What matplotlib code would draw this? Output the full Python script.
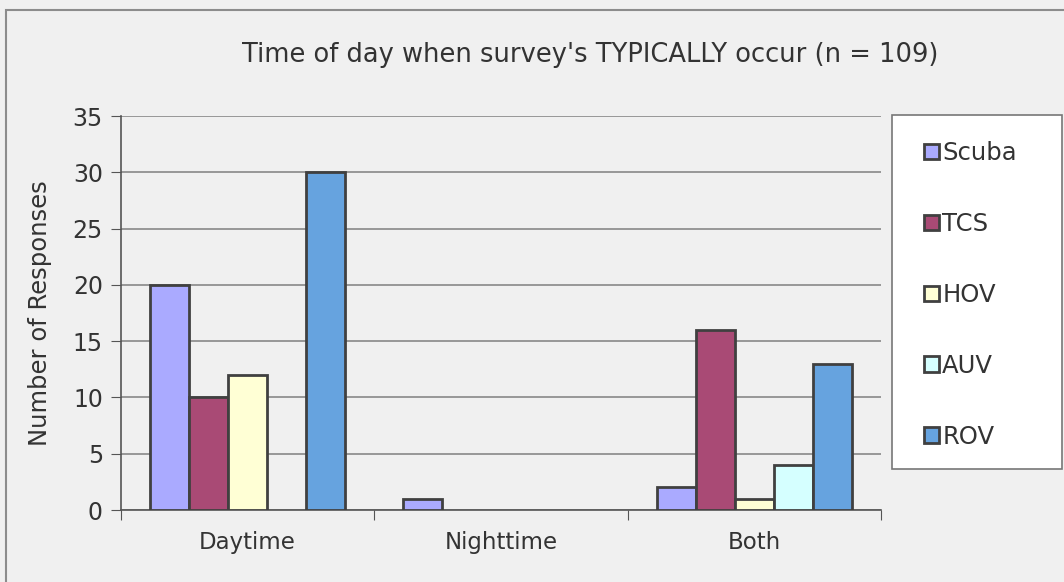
import numpy as np
import matplotlib
matplotlib.use("Agg")
import matplotlib.pyplot as plt
from matplotlib.patches import Rectangle, Patch

categories = ["Daytime", "Nighttime", "Both"]
series = ["Scuba", "TCS", "HOV", "AUV", "ROV"]
scuba = [20, 1, 2]
tcs = [10, 0, 16]
hov = [12, 0, 1]
auv = [0, 0, 4]
rov = [30, 0, 13]
colors = ["#AAAAFF", "#A94A75", "#FFFFD5", "#D5FFFF", "#66A3DF"]

plt.rcParams["font.family"] = ["DejaVu Sans"]
W, H = 1064, 582
fig = plt.figure(figsize=(W / 100, H / 100), dpi=100)
fig.patch.set_facecolor("#F0F0F0")
# outer chart border
fig.patches.append(Rectangle((6 / W, -0.01), 1.1, 1 - 10 / H + 0.01, transform=fig.transFigure,
                             fill=False, edgecolor="#8C8C8C", linewidth=1.5))

ax = fig.add_axes([121 / W, 1 - 510 / H, (881 - 121) / W, (510 - 116) / H])
ax.set_facecolor("#F0F0F0")

values = [scuba, tcs, hov, auv, rov]
x = np.arange(len(categories))
bw = 0.154
for i, (name, vals) in enumerate(zip(series, values)):
    bars = ax.bar(x - 2 * bw + i * bw, vals, bw, color=colors[i], edgecolor="#404040",
                  linewidth=2.0, zorder=3)
    # zero-height bars are not drawn in the original
    for b in bars:
        if b.get_height() == 0:
            b.set_visible(False)

ax.set_xlim(-0.5, 2.5)
ax.set_ylim(0, 35)
ax.set_yticks(range(0, 36, 5))
ax.yaxis.grid(True, color="#888888", linewidth=1.2, zorder=0)
ax.set_xticks([-0.5, 0.5, 1.5, 2.5], minor=False)
ax.set_xticklabels([])
ax.set_xticks(x, minor=True)
ax.set_xticklabels(categories, minor=True, fontsize=16.5, color="#333333")
ax.tick_params(axis="x", which="minor", length=0, pad=15)
ax.tick_params(axis="x", which="major", length=7, direction="out", color="#555555")
ax.tick_params(axis="y", length=7, direction="out", color="#555555", labelsize=17,
               labelcolor="#333333", pad=6)
for s in ["top", "right"]:
    ax.spines[s].set_visible(False)
for s in ["left", "bottom"]:
    ax.spines[s].set_color("#555555")
    ax.spines[s].set_linewidth(1.2)

ax.set_ylabel("Number of Responses", fontsize=17.5, color="#333333")
ax.yaxis.set_label_coords((52 - 121) / 760, 0.5)
fig.text(590 / W, 1 - 55 / H, "Time of day when survey's TYPICALLY occur (n = 109)",
         ha="center", va="center", fontsize=18.5, color="#333333")

# legend box
fig.patches.append(Rectangle((892 / W, 1 - 469 / H), (1062 - 892) / W, (469 - 115) / H,
                             transform=fig.transFigure, facecolor="white",
                             edgecolor="#777777", linewidth=1.2, zorder=1))
handles = [Patch(facecolor=c, edgecolor="#404040", linewidth=2.0) for c in colors]
leg = fig.legend(handles, series, loc="upper left", bbox_to_anchor=(924 / W, 1 - 141 / H),
                 fontsize=17.5, frameon=False,
                 handlelength=0.6, handleheight=0.6, handletextpad=0.15,
                 labelspacing=1.93, borderpad=0, borderaxespad=0)
for t in leg.get_texts():
    t.set_color("#333333")

fig.savefig("out.png", dpi=100, facecolor=fig.get_facecolor())
